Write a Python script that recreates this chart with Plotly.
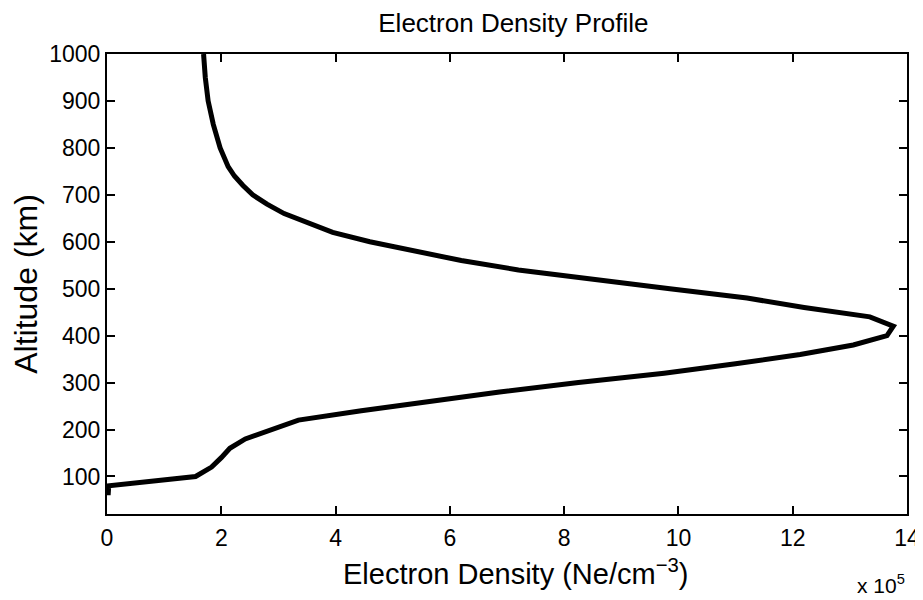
import plotly.graph_objects as go

# electron density (x 10^5 Ne/cm^-3) against altitude (km)
altitude = [60, 80, 100, 120, 140, 160, 180, 200, 220, 240, 260, 280,
            300, 320, 340, 360, 380, 400, 420, 440, 460, 480, 500, 520, 540,
            560, 580, 600, 620, 640, 660, 680, 700, 720, 740, 760, 780, 800,
            850, 900, 950, 1000]
density = [0.02, 0.03, 1.55, 1.83, 2.0, 2.15, 2.42, 2.9, 3.35, 4.45,
           5.65, 6.87, 8.25, 9.75, 11.0, 12.13, 13.06, 13.65, 13.76, 13.35,
           12.2, 11.2, 9.85, 8.5, 7.2, 6.2, 5.35, 4.6, 3.95, 3.5, 3.1, 2.8,
           2.55, 2.38, 2.23, 2.12, 2.04, 1.98, 1.86, 1.77, 1.72, 1.69]

x_ticks = [0, 2, 4, 6, 8, 10, 12, 14]
y_ticks = [100, 200, 300, 400, 500, 600, 700, 800, 900, 1000]

font = 'Liberation Sans, Arial, Helvetica, sans-serif'

# the page body adds an 8px margin, so the figure is 8px smaller each way
W, H = 915, 592

fig = go.Figure()
fig.add_trace(go.Scatter(
    x=density,
    y=altitude,
    mode='lines',
    line=dict(color='black', width=5),
    showlegend=False
))

axis_style = dict(
    showline=True,
    linecolor='black',
    linewidth=2,
    mirror='ticks',
    ticks='inside',
    ticklen=8,
    tickwidth=1.5,
    tickcolor='black',
    showgrid=False,
    zeroline=False,
    automargin=False,
    tickfont=dict(family=font, size=23, color='black')
)

fig.update_layout(
    width=W,
    height=H,
    paper_bgcolor='white',
    plot_bgcolor='white',
    margin=dict(l=99, r=16, t=46, b=86),
    title=dict(
        text='Electron Density Profile',
        x=0.508,
        xref='paper',
        y=1 - 15 / H,
        yanchor='middle',
        font=dict(family=font, size=26, color='black')
    ),
    xaxis=dict(range=[0, 14], tickvals=x_ticks, ticklabelstandoff=2, **axis_style),
    yaxis=dict(
        range=[20, 1000],
        tickvals=y_ticks,
        ticklabelstandoff=0,
        title=dict(text='Altitude (km)', standoff=6,
                   font=dict(family=font, size=32, color='black')),
        **axis_style
    ),
    annotations=[
        dict(text='Electron Density (Ne/cm<sup>−3</sup>)', x=0.51, y=-0.126,
             xref='paper', yref='paper', xanchor='center', yanchor='middle',
             showarrow=False, font=dict(family=font, size=29, color='black')),
        dict(text='x 10<sup>5</sup>', x=1.0, y=-0.152,
             xref='paper', yref='paper', xanchor='right', yanchor='middle',
             showarrow=False, font=dict(family=font, size=21, color='black')),
    ]
)

fig.write_html("out.html")
